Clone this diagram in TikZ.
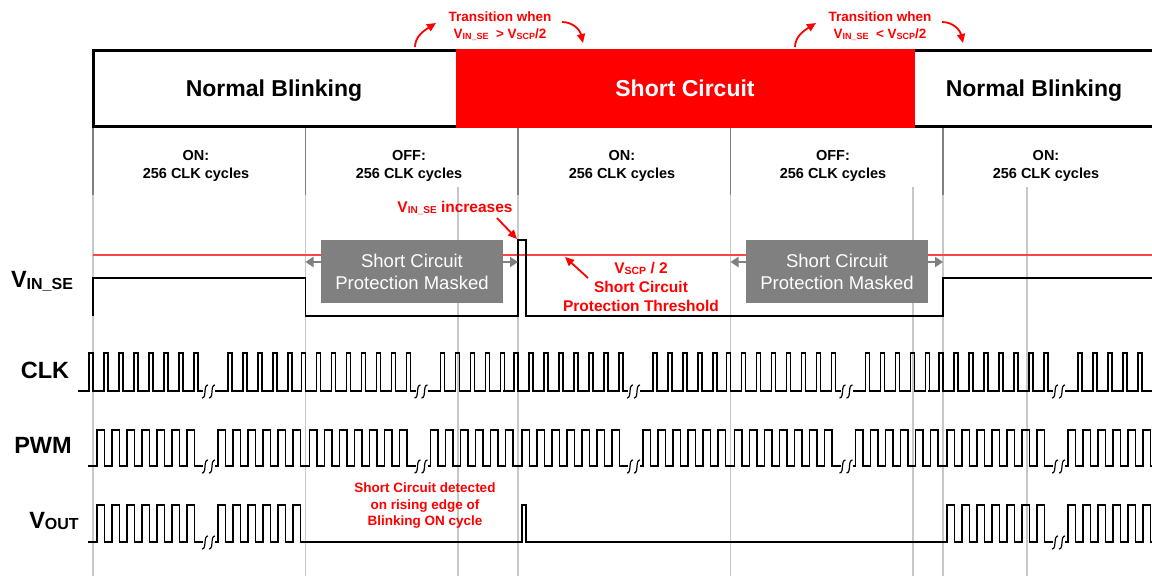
\documentclass[tikz,border=0pt]{standalone}
\usepackage{fontspec}
\setmainfont{Liberation Sans}
\usetikzlibrary{shapes, arrows, arrows.meta, positioning, calc}

\definecolor{scred}{RGB}{255,0,0}
\definecolor{thrred}{RGB}{250,70,70}
\definecolor{maskgray}{RGB}{128,128,128}
\definecolor{gridgray}{RGB}{200,200,200}

\newcommand{\lowtxt}[2]{\raisebox{-0.15ex}{\fontsize{#1}{#1}\selectfont #2}}

\tikzset{brkmark/.pic={
    \draw[line width=1.2pt] (-7,7) .. controls (-2,7) and (-6,-6) .. (-1,-6);
    \draw[line width=1.2pt] (0,7) .. controls (5,7) and (1,-6) .. (6,-6);
}}

\begin{document}
\begin{tikzpicture}[x=1pt, y=-1pt]
    \tikzstyle{wave} = [line width=1.3pt, line join=miter]
    \tikzstyle{gridline} = [gridgray, line width=1.2pt]
    \tikzstyle{divline} = [maskgray, line width=1.4pt]
    \tikzstyle{bandtxt} = [anchor=base, font=\fontsize{23}{27}\selectfont\bfseries]
    \tikzstyle{phasetxt} = [align=center, font=\fontsize{14.5}{18}\selectfont\bfseries]
    \tikzstyle{sig} = [font=\fontsize{23.5}{28}\selectfont\bfseries]
    \tikzstyle{maskbox} = [fill=maskgray, text=white, align=center, minimum width=182pt, minimum height=63pt, inner sep=0pt, font=\fontsize{18.5}{22}\selectfont]
    \tikzstyle{note} = [text=scred, align=center, font=\fontsize{13.5}{16.5}\selectfont\bfseries]
    \tikzstyle{bignote} = [text=scred, align=center, font=\fontsize{15.5}{19}\selectfont\bfseries]
    \tikzstyle{redarrow} = [->, >={Triangle[length=9pt, width=8pt]}, scred, line width=1.8pt]
    \tikzstyle{maskarrow} = [->, >={Triangle[length=8pt, width=10pt]}, maskgray, line width=2pt]

    \useasboundingbox (0,0) rectangle (1152,576);
    \fill[white] (0,0) rectangle (1152,576);

    \foreach \ph in {93,305.5,518,730.5,943} {
        \draw[gridline] (\ph,195) -- (\ph,576);
        \draw[divline] (\ph,126) -- (\ph,195);
    }
    \foreach \xx in {458,913,1027} \draw[gridline] (\xx,187) -- (\xx,576);

    \draw[line width=3pt] (1152,50) -- (93,50) -- (93,126) -- (1152,126);
    \fill[scred] (456,48.5) rectangle (915,127.5);
    \node[bandtxt] (nb1) at (274,96.5) {Normal Blinking};
    \node[bandtxt, text=white] (sc) at (685,96.5) {Short Circuit};
    \node[bandtxt] (nb2) at (1034,96.5) {Normal Blinking};

    \node[note] (tr1) at (500,26) {Transition when\\V\lowtxt{9}{IN\_SE}\ \ > V\lowtxt{9}{SCP}/2};
    \node[note] (tr2) at (880,26) {Transition when\\V\lowtxt{9}{IN\_SE}\ \ < V\lowtxt{9}{SCP}/2};
    \coordinate (tr1a) at (415,47);
    \coordinate (tr1b) at (436,23);
    \coordinate (tr1c) at (562,22);
    \coordinate (tr1d) at (583,43);
    \coordinate (tr2a) at (795,47);
    \coordinate (tr2b) at (816,23);
    \coordinate (tr2c) at (942,22);
    \coordinate (tr2d) at (963,43);
    \draw[redarrow] (tr1a) .. controls (415,36) and (425,30) .. (tr1b);
    \draw[redarrow] (tr1c) .. controls (573,22) and (580,30) .. (tr1d);
    \draw[redarrow] (tr2a) .. controls (795,36) and (805,30) .. (tr2b);
    \draw[redarrow] (tr2c) .. controls (953,22) and (960,30) .. (tr2d);

    \node[phasetxt] (on1) at (196,166) {ON:\\256 CLK cycles};
    \node[phasetxt] (off1) at (409,166) {OFF:\\256 CLK cycles};
    \node[phasetxt] (on2) at (622,166) {ON:\\256 CLK cycles};
    \node[phasetxt] (off2) at (833,166) {OFF:\\256 CLK cycles};
    \node[phasetxt] (on3) at (1046,166) {ON:\\256 CLK cycles};

    \draw[thrred, line width=1.1pt] (93,255) -- (1152,255);

    \node[sig] (lvin) at (42,281) {V\lowtxt{16}{IN\_SE}};
    \node[sig] (lclk) at (45,370) {CLK};
    \node[sig] (lpwm) at (43,445) {PWM};
    \node[sig] (lvout) at (54,521) {V\lowtxt{16}{OUT}};

    \draw[wave] (93,316) -- (93,278) -- (305.5,278) -- (305.5,316) -- (518,316) -- (518,240) -- (526,240)
        -- (526,316) -- (943,316) -- (943,278) -- (1152,278);

    \foreach \ph in {93,305.5,518,730.5,943} {
        \draw[wave] ({\ph-15},391) \foreach \i in {0,...,7} { -- ({\ph-4+15*\i},391) -- ({\ph-4+15*\i},353)
            -- ({\ph+15*\i},353) -- ({\ph+15*\i},391) } -- ({\ph+110},391);
        \draw[wave] ({\ph+122},391) \foreach \i in {0,...,4} { -- ({\ph+135+15*\i},391) -- ({\ph+135+15*\i},353)
            -- ({\ph+139+15*\i},353) -- ({\ph+139+15*\i},391) } -- ({\ph+208.5},391);
        \pic at ({\ph+116},391) {brkmark};
        \draw[wave] ({\ph-5},466) \foreach \i in {0,...,6} { -- ({\ph+4+15*\i},466) -- ({\ph+4+15*\i},430)
            -- ({\ph+11.5+15*\i},430) -- ({\ph+11.5+15*\i},466) } -- ({\ph+110},466);
        \draw[wave] ({\ph+122},466) \foreach \i in {0,...,5} { -- ({\ph+125+15*\i},466) -- ({\ph+125+15*\i},430)
            -- ({\ph+132.5+15*\i},430) -- ({\ph+132.5+15*\i},466) } -- ({\ph+216.5},466);
        \pic at ({\ph+116},466) {brkmark};
    }

    \draw[wave] (88,542) \foreach \i in {0,...,6} { -- ({97+15*\i},542) -- ({97+15*\i},505)
        -- ({104.5+15*\i},505) -- ({104.5+15*\i},542) } -- (203,542);
    \draw[wave] (215,542) \foreach \i in {0,...,5} { -- ({218+15*\i},542) -- ({218+15*\i},505)
        -- ({225.5+15*\i},505) -- ({225.5+15*\i},542) } -- (522,542) -- (522,505) -- (526,505) -- (526,542)
        \foreach \i in {0,...,6} { -- ({947+15*\i},542) -- ({947+15*\i},505)
        -- ({954.5+15*\i},505) -- ({954.5+15*\i},542) } -- (1053,542);
    \draw[wave] (1065,542) \foreach \i in {0,...,5} { -- ({1068+15*\i},542) -- ({1068+15*\i},505)
        -- ({1075.5+15*\i},505) -- ({1075.5+15*\i},542) } -- (1152,542);
    \pic at (209,542) {brkmark};
    \pic at (1059,542) {brkmark};

    \node[maskbox] (mask1) at (412,271.5) {Short Circuit\\Protection Masked};
    \node[maskbox] (mask2) at (837,271.5) {Short Circuit\\Protection Masked};
    \coordinate (m1l) at (305.5,262);
    \coordinate (m1r) at (518,262);
    \coordinate (m2l) at (730.5,262);
    \coordinate (m2r) at (943,262);
    \draw[maskarrow] (m1l -| mask1.west) -- (m1l);
    \draw[maskarrow] (m1r -| mask1.east) -- (m1r);
    \draw[maskarrow] (m2l -| mask2.west) -- (m2l);
    \draw[maskarrow] (m2r -| mask2.east) -- (m2r);

    \node[bignote] (incr) at (455,208) {V\lowtxt{10}{IN\_SE} increases};
    \coordinate (incrtail) at (497,218);
    \coordinate (incrtip) at (517,239);
    \draw[redarrow] (incrtail) -- (incrtip);

    \node[bignote] (thr) at (641,287) {V\lowtxt{10.5}{SCP} / 2\\Short Circuit\\Protection Threshold};
    \coordinate (thrtail) at (588,278);
    \coordinate (thrtip) at (565,257);
    \draw[redarrow] (thrtail) -- (thrtip);

    \node[note] (det) at (425,506) {Short Circuit detected\\on rising edge of\\Blinking ON cycle};
\end{tikzpicture}
\end{document}
